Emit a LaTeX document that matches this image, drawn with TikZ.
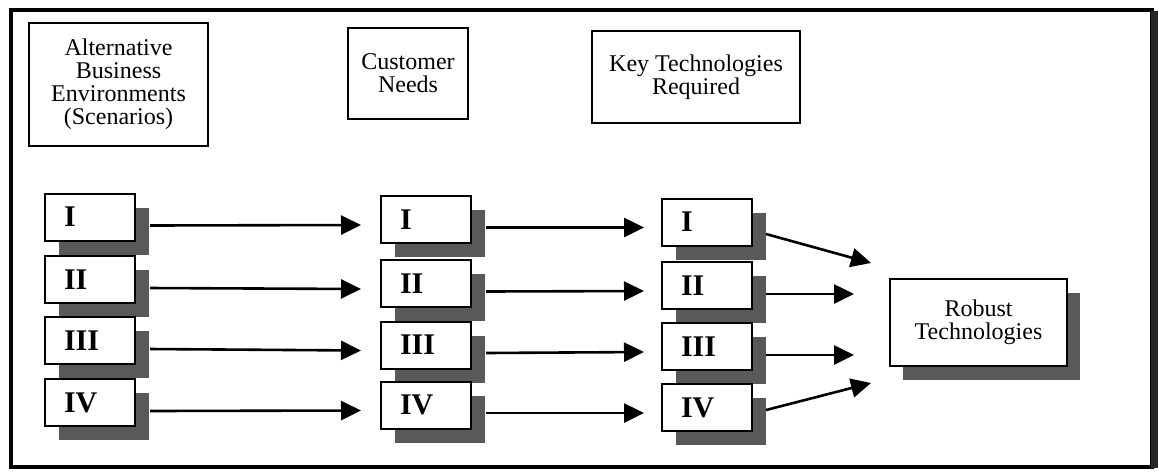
\documentclass[tikz,border=0pt]{standalone}
\usepackage{fontspec}
\setmainfont{Liberation Serif}
\usepackage{tikz}
\usetikzlibrary{arrows.meta}
\usetikzlibrary{calc}
\usetikzlibrary{shadows}

\begin{document}
\begin{tikzpicture}[x=0.5pt, y=-0.5pt,
        head_style/.style={rectangle,draw=black,line width=1pt,align=center,font=\fontsize{12}{11.5}\selectfont},
        num_style/.style={rectangle,draw=black,line width=1pt,fill=white,minimum width=45pt,minimum height=23.5pt,text width=26pt,inner xsep=9pt,align=left,font=\fontsize{15}{15}\selectfont\bfseries,drop shadow={shadow xshift=7pt,shadow yshift=-7pt,fill=black!65,opacity=1}},
        robust_style/.style={rectangle,draw=black,line width=1pt,fill=white,minimum width=88.5pt,minimum height=43.5pt,align=center,font=\fontsize{12}{11.5}\selectfont,drop shadow={shadow xshift=6.5pt,shadow yshift=-7pt,fill=black!65,opacity=1}},
        edge_style/.style={draw=black, line width=1.3pt, -{Triangle[length=10pt,width=9.5pt]}}]

        \useasboundingbox (0,0) rectangle (1159,472);

        \draw [line width=2pt] (11,10) rectangle (1152,467);

        \draw [line width=3.5pt, black!85] (1154,11) -- (1154,468);

        \node [head_style, minimum width=89.5pt, minimum height=61.5pt](alt) at (118.5,84.5) {Alternative\\Business\\Environments\\(Scenarios)};

        \node [head_style, minimum width=60pt, minimum height=45.5pt](cust) at (408,73.5) {Customer\\Needs};

        \node [head_style, minimum width=104pt, minimum height=46pt](key) at (696,77) {Key Technologies\\Required};

        \node [num_style](c1r1) at (90,217) {I};

        \node [num_style](c1r2) at (90,279.5) {II};

        \node [num_style](c1r3) at (90,340.5) {III};

        \node [num_style](c1r4) at (90,402.5) {IV};

        \node [num_style](c2r1) at (426,219.5) {I};

        \node [num_style](c2r2) at (426,283.5) {II};

        \node [num_style](c2r3) at (426,345) {III};

        \node [num_style](c2r4) at (426,405) {IV};

        \node [num_style](c3r1) at (707,222) {I};

        \node [num_style](c3r2) at (707,285.5) {II};

        \node [num_style](c3r3) at (707,346.5) {III};

        \node [num_style](c3r4) at (707,407.5) {IV};

        \node [robust_style](robust) at (978.5,322.5) {Robust\\Technologies};

        \draw [edge_style] ([shift={(14,8.5)}]c1r1.east) -- ([shift={(-19,5.5)}]c2r1.west);

        \draw [edge_style] ([shift={(14,8.5)}]c1r2.east) -- ([shift={(-19,5.5)}]c2r2.west);

        \draw [edge_style] ([shift={(14,8.5)}]c1r3.east) -- ([shift={(-19,5.5)}]c2r3.west);

        \draw [edge_style] ([shift={(14,8.5)}]c1r4.east) -- ([shift={(-19,5.5)}]c2r4.west);

        \draw [edge_style] ([shift={(14,8)}]c2r1.east) -- ([shift={(-17,5.5)}]c3r1.west);

        \draw [edge_style] ([shift={(14,8)}]c2r2.east) -- ([shift={(-17,5.5)}]c3r2.west);

        \draw [edge_style] ([shift={(14,8)}]c2r3.east) -- ([shift={(-17,5.5)}]c3r3.west);

        \draw [edge_style] ([shift={(14,8)}]c2r4.east) -- ([shift={(-17,5.5)}]c3r4.west);

        \draw [edge_style] ([shift={(13,12)}]c3r1.east) -- ([shift={(-18,-59.5)}]robust.west);

        \draw [edge_style] ([shift={(13,8.5)}]c3r2.east) -- ([shift={(-35,-28.5)}]robust.west);

        \draw [edge_style] ([shift={(13,8.5)}]c3r3.east) -- ([shift={(-35,32.5)}]robust.west);

        \draw [edge_style] ([shift={(13,2.5)}]c3r4.east) -- ([shift={(-18,60.5)}]robust.west);

        \end{tikzpicture}
\end{document}
